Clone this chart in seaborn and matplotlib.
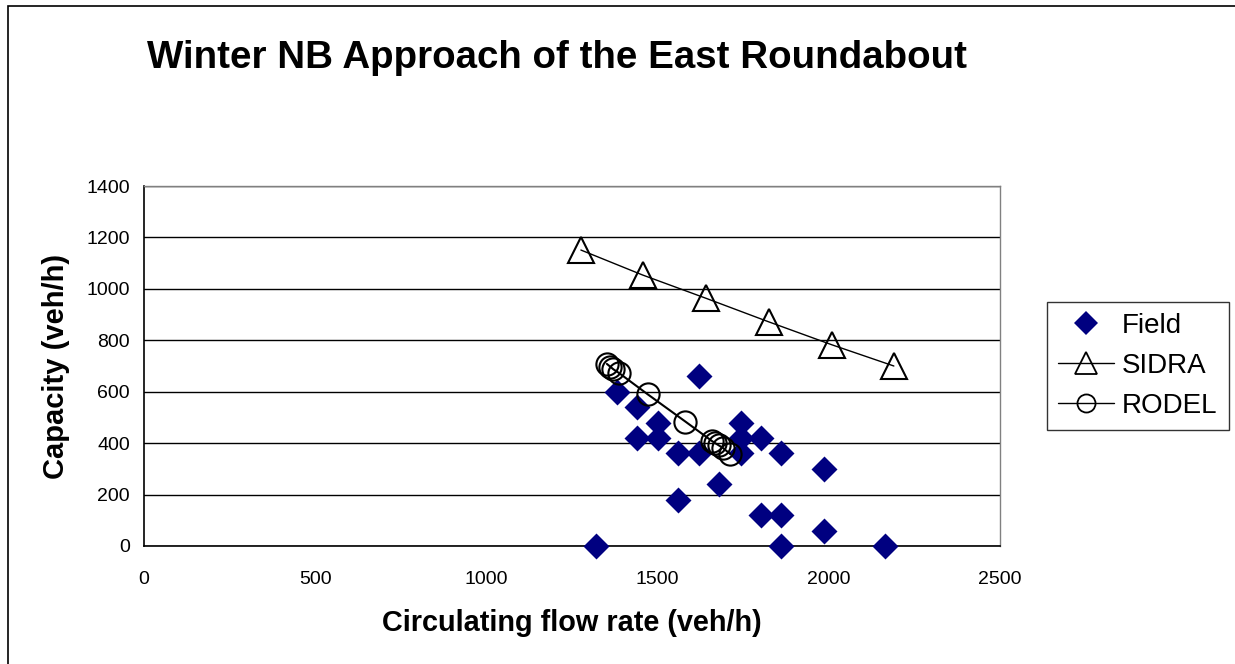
import numpy as np
import matplotlib
matplotlib.use("Agg")
import matplotlib.pyplot as plt
from matplotlib.lines import Line2D
from matplotlib.patches import Rectangle
import seaborn as sns
import pandas as pd

# values
field_x = [1320, 1380, 1440, 1440, 1500, 1500, 1560, 1560, 1620, 1620, 1680,
           1745, 1745, 1745, 1802, 1802, 1860, 1860, 1860, 1985, 1985, 2165]
field_y = [0, 600, 540, 420, 480, 420, 360, 180, 660, 360, 240,
           480, 420, 360, 420, 120, 360, 120, 0, 300, 60, 0]

sidra_x = [1276, 1456, 1642, 1824, 2010, 2190]
sidra_y = [1151, 1054, 963, 872, 782, 700]

rodel_x = [1352, 1362, 1371, 1386, 1471, 1581, 1659, 1668, 1678, 1690, 1712]
rodel_y = [708, 697, 687, 674, 590, 484, 408, 400, 392, 382, 358]

x_ticks = [0, 500, 1000, 1500, 2000, 2500]
y_ticks = [0, 200, 400, 600, 800, 1000, 1200, 1400]

field = pd.DataFrame({'x': field_x, 'y': field_y})
sidra = pd.DataFrame({'x': sidra_x, 'y': sidra_y})
rodel = pd.DataFrame({'x': rodel_x, 'y': rodel_y})

sns.set_style('white')
plt.rcParams['font.family'] = ['Liberation Sans', 'DejaVu Sans']
plt.rcParams['text.color'] = 'black'
plt.rcParams['axes.labelcolor'] = 'black'
plt.rcParams['xtick.color'] = 'black'
plt.rcParams['ytick.color'] = 'black'

fig = plt.figure(figsize=(12.35, 6.64), dpi=100)
ax = fig.add_axes([144/1235, 118/664, 856/1235, 360/664])

navy = '#000080'
sns.scatterplot(data=field, x='x', y='y', ax=ax, marker='D', s=175,
                color=navy, edgecolor=navy, linewidth=0, zorder=3, clip_on=False)
sns.lineplot(data=sidra, x='x', y='y', ax=ax, sort=False, color='black',
             linewidth=1, marker='^', markersize=19, markerfacecolor='none',
             markeredgecolor='black', markeredgewidth=1.5, zorder=4)
sns.lineplot(data=rodel, x='x', y='y', ax=ax, sort=False, color='black',
             linewidth=1.5, marker='o', markersize=16, markerfacecolor='none',
             markeredgecolor='black', markeredgewidth=1.5, zorder=4)

ax.set_xlim(0, 2500)
ax.set_ylim(0, 1400)
ax.set_xticks(x_ticks)
ax.set_yticks(y_ticks)
ax.yaxis.grid(True, color='black', linewidth=1)
ax.set_axisbelow(True)
ax.tick_params(axis='both', direction='out', length=6, width=1, color='black',
               labelsize=14, pad=4)
ax.tick_params(axis='x', pad=12)
for side in ['left', 'bottom']:
    ax.spines[side].set_color('black')
    ax.spines[side].set_linewidth(1.2)
for side in ['top', 'right']:
    ax.spines[side].set_color('#808080')
    ax.spines[side].set_linewidth(1)

ax.set_xlabel('Circulating flow rate (veh/h)', fontsize=20.8, fontweight='bold', labelpad=15)
ax.set_ylabel('Capacity (veh/h)', fontsize=21, fontweight='bold', labelpad=12)

fig.text(147/1235, 1 - 58/664, 'Winter NB Approach of the East Roundabout',
         fontsize=27.7, fontweight='bold', va='center', ha='left')

handles = [
    Line2D([], [], linestyle='none', marker='D', markersize=12, color=navy, markeredgewidth=0),
    Line2D([], [], color='black', linewidth=1, marker='^', markersize=16,
           markerfacecolor='none', markeredgecolor='black', markeredgewidth=1.3),
    Line2D([], [], color='black', linewidth=1, marker='o', markersize=13,
           markerfacecolor='none', markeredgecolor='black', markeredgewidth=1.3),
]
leg = fig.legend(handles, ['Field', 'SIDRA', 'RODEL'], loc='center left',
                 bbox_to_anchor=(1047/1235, 1 - 366/664), fontsize=20,
                 frameon=True, fancybox=False, edgecolor='black',
                 handlelength=2.0, handletextpad=0.3, labelspacing=0.5,
                 borderpad=0.4, borderaxespad=0)
leg.get_frame().set_linewidth(1)

fig.patches.append(Rectangle((8/1235, -0.1), 1.2, 1 - 6/664 + 0.1,
                             transform=fig.transFigure, fill=False,
                             edgecolor='black', linewidth=1.2))

fig.savefig('out.png', dpi=100)
